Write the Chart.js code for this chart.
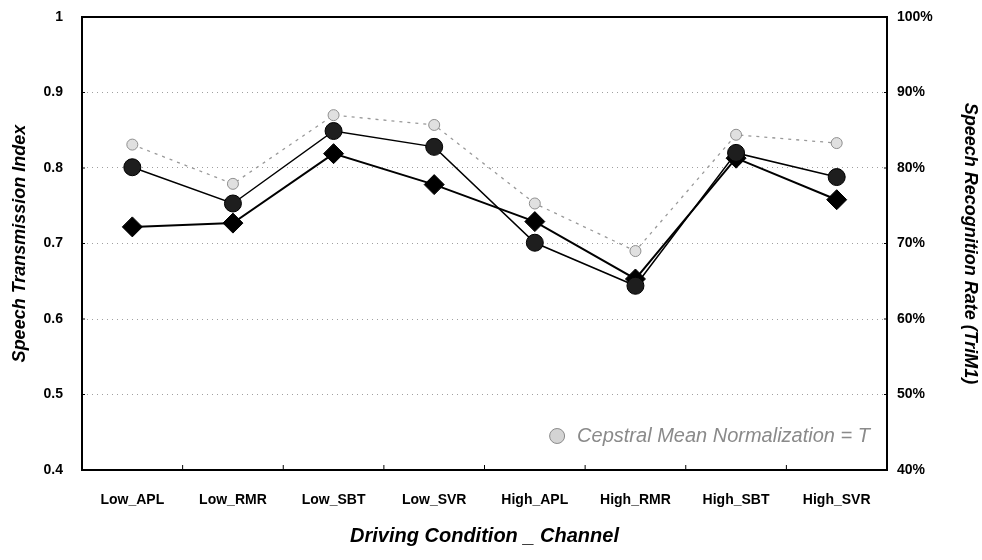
<!DOCTYPE html>
<html>
<head>
<meta charset="utf-8">
<script src="https://cdn.jsdelivr.net/npm/chart.js@4.4.1/dist/chart.umd.min.js"></script>
<style>
  html, body { margin: 0; padding: 0; background: #fff; }
  #wrap { width: 982px; height: 560px; }
</style>
</head>
<body>
<div id="wrap"><canvas id="chart"></canvas></div>
<script>
const categories = ['Low_APL', 'Low_RMR', 'Low_SBT', 'Low_SVR', 'High_APL', 'High_RMR', 'High_SBT', 'High_SVR'];

// Speech Transmission Index (left axis)
const sti = [0.722, 0.727, 0.819, 0.778, 0.729, 0.653, 0.813, 0.758];
// Speech recognition rate, % (right axis)
const recogF = [80.1, 75.3, 84.9, 82.8, 70.1, 64.4, 82.0, 78.8];
const recogT = [83.1, 77.9, 87.0, 85.7, 75.3, 69.0, 84.4, 83.3];

const stiTicks = [0.4, 0.5, 0.6, 0.7, 0.8, 0.9, 1];
const rateTicks = [40, 50, 60, 70, 80, 90, 100];

const baseFont = "'Liberation Sans', Arial, sans-serif";

// plot frame, inward tick marks and the in-plot legend
const framePlugin = {
    id: 'frame',
    afterDraw(chart) {
        const { ctx, chartArea: a, scales } = chart;
        ctx.save();
        ctx.strokeStyle = '#000';
        ctx.lineWidth = 2;
        ctx.strokeRect(a.left, a.top, a.right - a.left, a.bottom - a.top);

        ctx.lineWidth = 1;
        const x = scales.x;
        for (let i = 0; i < categories.length - 1; i++) {
            const px = (x.getPixelForValue(i) + x.getPixelForValue(i + 1)) / 2;
            ctx.beginPath();
            ctx.moveTo(px, a.bottom);
            ctx.lineTo(px, a.bottom - 5);
            ctx.stroke();
        }
        stiTicks.forEach(v => {
            const py = scales.y.getPixelForValue(v);
            ctx.beginPath();
            ctx.moveTo(a.left, py);
            ctx.lineTo(a.left + 3, py);
            ctx.stroke();
        });
        rateTicks.forEach(v => {
            const py = scales.y1.getPixelForValue(v);
            ctx.beginPath();
            ctx.moveTo(a.right, py);
            ctx.lineTo(a.right - 3, py);
            ctx.stroke();
        });

        // legend for the CMN = T series only
        const ds = chart.data.datasets[0];
        ctx.font = 'italic 20px ' + baseFont;
        ctx.textBaseline = 'middle';
        ctx.textAlign = 'right';
        const ty = a.bottom - 34;
        const tx = a.right - 17;
        const w = ctx.measureText(ds.label).width;
        ctx.fillStyle = '#8a8a8a';
        ctx.fillText(ds.label, tx, ty);
        ctx.beginPath();
        ctx.arc(tx - w - 20, ty, 7.5, 0, Math.PI * 2);
        ctx.fillStyle = '#d4d4d4';
        ctx.fill();
        ctx.strokeStyle = '#8a8a8a';
        ctx.lineWidth = 1;
        ctx.stroke();
        ctx.restore();
    }
};

function fitVertical(width) {
    return scale => {
        scale.width = width;
        scale.paddingTop = 0;
        scale.paddingBottom = 0;
    };
}

new Chart(document.getElementById('chart'), {
    type: 'line',
    data: {
        labels: categories,
        datasets: [
            {
                label: 'Cepstral Mean Normalization = T',
                data: recogT,
                yAxisID: 'y1',
                borderColor: '#999',
                borderWidth: 1.3,
                borderDash: [3, 5],
                pointStyle: 'circle',
                pointRadius: 5.5,
                pointBackgroundColor: '#e0e0e0',
                pointBorderColor: '#8f8f8f',
                pointBorderWidth: 1,
                order: 3
            },
            {
                label: 'Cepstral Mean Normalization = F',
                data: recogF,
                yAxisID: 'y1',
                borderColor: '#000',
                borderWidth: 1.5,
                pointStyle: 'circle',
                pointRadius: 8.5,
                pointBackgroundColor: '#1e1e1e',
                pointBorderColor: '#000',
                pointBorderWidth: 1,
                order: 1
            },
            {
                label: 'Speech Transmission Index',
                data: sti,
                yAxisID: 'y',
                borderColor: '#000',
                borderWidth: 2,
                pointStyle: 'rectRot',
                pointRadius: 10,
                pointBackgroundColor: '#000',
                pointBorderColor: '#000',
                pointBorderWidth: 1,
                order: 2
            }
        ]
    },
    options: {
        responsive: true,
        maintainAspectRatio: false,
        animation: false,
        layout: { padding: { top: 17, left: 0, right: 0, bottom: 0 } },
        plugins: {
            legend: { display: false },
            tooltip: { enabled: false }
        },
        scales: {
            x: {
                offset: true,
                grid: { display: false, drawTicks: false },
                border: { display: false },
                ticks: {
                    padding: 22,
                    color: '#000',
                    font: { family: baseFont, size: 14, weight: 'bold' },
                    maxRotation: 0,
                    autoSkip: false
                },
                title: {
                    display: true,
                    text: 'Driving Condition _ Channel',
                    color: '#000',
                    font: { family: baseFont, size: 20, weight: 'bold', style: 'italic' },
                    padding: { top: 0, bottom: 12 }
                },
                afterFit(scale) {
                    scale.height = 90;
                    scale.paddingLeft = 0;
                    scale.paddingRight = 0;
                }
            },
            y: {
                position: 'left',
                min: 0.4,
                max: 1,
                afterBuildTicks(scale) { scale.ticks = stiTicks.map(v => ({ value: v })); },
                grid: {
                    drawTicks: false,
                    color: ctx => (ctx.tick && (ctx.tick.value === 1 || ctx.tick.value === 0.4)) ? 'rgba(0,0,0,0)' : '#a0a0a0',
                    lineWidth: 1
                },
                border: { display: false, dash: [1, 4] },
                ticks: {
                    padding: 19,
                    color: '#000',
                    font: { family: baseFont, size: 14, weight: 'bold' },
                    callback: v => String(+v.toFixed(1))
                },
                title: {
                    display: true,
                    text: 'Speech Transmission Index',
                    color: '#000',
                    font: { family: baseFont, size: 18, weight: 'bold', style: 'italic' },
                    padding: { top: 9, bottom: 0 }
                },
                afterFit: fitVertical(82)
            },
            y1: {
                position: 'right',
                min: 40,
                max: 100,
                afterBuildTicks(scale) { scale.ticks = rateTicks.map(v => ({ value: v })); },
                grid: { display: false, drawTicks: false },
                border: { display: false },
                ticks: {
                    padding: 10,
                    color: '#000',
                    font: { family: baseFont, size: 14, weight: 'bold' },
                    callback: v => v + '%'
                },
                title: {
                    display: true,
                    text: 'Speech Recognition Rate (TriM1)',
                    color: '#000',
                    font: { family: baseFont, size: 18, weight: 'bold', style: 'italic' },
                    padding: { top: 1, bottom: 0 }
                },
                afterFit: fitVertical(95)
            }
        }
    },
    plugins: [framePlugin]
});
</script>
</body>
</html>
